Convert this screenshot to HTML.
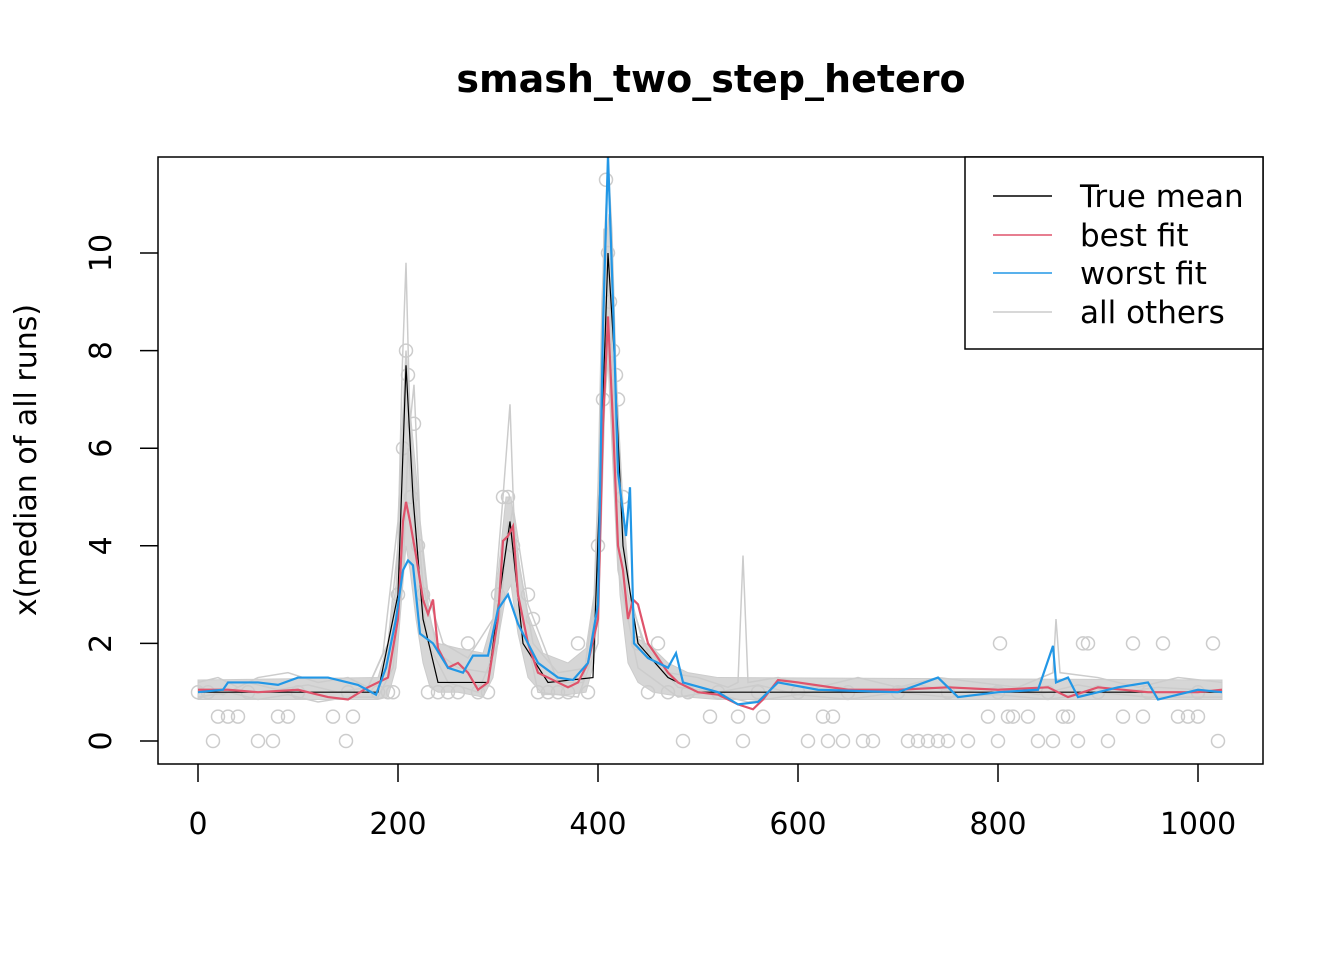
<!DOCTYPE html>
<html><head><meta charset="utf-8">
<style>
html,body{margin:0;padding:0;background:#fff;}
svg{display:block;font-family:"DejaVu Sans","Liberation Sans",sans-serif;}
</style></head>
<body>
<svg id="chart" width="1344" height="960" viewBox="0 0 1344 960" xmlns="http://www.w3.org/2000/svg">
<rect width="1344" height="960" fill="#fff"/>
<text x="711" y="92" text-anchor="middle" font-size="38" font-weight="bold">smash_two_step_hetero</text>
<text transform="translate(36,460) rotate(-90)" text-anchor="middle" font-size="30">x(median of all runs)</text>
<g id="plot"></g>
<rect x="158" y="157" width="1105" height="607" fill="none" stroke="#000" stroke-width="1.5"/>
<g id="axes"></g>
<g id="legend">
<rect x="965" y="157" width="298" height="192" fill="#fff" stroke="#000" stroke-width="1.5"/>
<line x1="993" y1="196" x2="1052" y2="196" stroke="#000" stroke-width="1.5"/>
<text x="1080" y="207" font-size="31">True mean</text>
<line x1="993" y1="235" x2="1052" y2="235" stroke="#DF536B" stroke-width="1.5"/>
<text x="1080" y="246" font-size="31">best fit</text>
<line x1="993" y1="273" x2="1052" y2="273" stroke="#2297E6" stroke-width="1.5"/>
<text x="1080" y="284" font-size="31">worst fit</text>
<line x1="993" y1="312" x2="1052" y2="312" stroke="#cccccc" stroke-width="1.5"/>
<text x="1080" y="323" font-size="31">all others</text>
</g>
</svg>
<script>
const xTicks=[0,200,400,600,800,1000];
const yTicks=[0,2,4,6,8,10];
const trueX=[0,180,200,208,215,225,240,290,305,312,325,350,395,405,410,416,425,440,470,500,1024];
const trueY=[1,1,3,7.7,5,2.5,1.2,1.2,3.5,4.5,2,1.2,1.3,7,10,8,4,2,1.3,1,1];
const bestX=[0,30,60,100,130,150,170,190,200,205,208,212,218,225,230,235,240,250,260,270,280,290,300,305,310,315,320,330,340,350,360,370,380,390,400,405,410,415,420,425,430,435,440,450,460,470,480,500,520,540,555,565,580,600,650,700,750,800,850,870,900,950,1000,1024];
const bestY=[1.05,1.05,1.0,1.05,0.9,0.85,1.1,1.3,2.5,4.5,4.9,4.5,3.8,2.9,2.6,2.9,1.9,1.5,1.6,1.4,1.05,1.2,2.5,4.1,4.2,4.4,3.0,2.0,1.4,1.3,1.2,1.1,1.2,1.6,2.5,6.5,8.7,6.5,4.0,3.5,2.5,2.9,2.8,2.0,1.7,1.4,1.2,1.0,0.95,0.75,0.65,0.85,1.25,1.2,1.05,1.05,1.1,1.05,1.1,0.9,1.1,1.0,1.0,1.05];
const worstX=[0,25,30,60,80,100,130,160,178,188,198,205,210,215,222,235,250,265,275,290,300,310,320,340,360,375,390,400,405,410,415,420,428,432,436,450,470,478,485,520,540,560,580,620,700,740,760,800,840,855,858,870,880,920,950,960,1000,1024];
const worstY=[1.0,1.05,1.2,1.2,1.15,1.3,1.3,1.15,0.95,1.5,2.5,3.5,3.7,3.6,2.2,2.0,1.5,1.4,1.75,1.75,2.7,3.0,2.4,1.6,1.3,1.25,1.6,2.8,8.5,12,9,5.5,4.2,5.2,2.0,1.7,1.5,1.8,1.2,1.0,0.75,0.8,1.2,1.05,1.0,1.3,0.9,1.0,1.05,1.95,1.2,1.3,0.9,1.1,1.2,0.85,1.05,1.0];
const bandX=[0,180,190,198,204,208,212,218,225,232,240,260,285,295,302,308,313,320,330,345,370,388,396,402,407,411,416,422,430,440,455,470,490,520,1024];
const bandLo=[0.85,0.85,0.9,1.5,3.0,4.0,3.5,2.5,1.6,1.1,1.0,1.0,0.9,1.3,2.3,3.0,3.2,2.2,1.3,0.95,0.95,1.0,1.6,3.5,7.0,8.0,5.5,3.0,1.6,1.2,1.0,0.95,0.9,0.85,0.85];
const bandHi=[1.25,1.3,2.0,3.2,6.0,7.5,6.8,5.5,3.8,2.5,2.0,1.9,1.8,2.5,3.8,5.0,5.0,3.8,2.6,1.8,1.6,1.9,3.0,6.5,10.0,10.8,8.5,6.0,3.0,2.1,1.9,1.6,1.4,1.3,1.25];
const grayAX=[0,20,40,60,90,120,150,170,190,200,204,208,212,216,222,230,245,270,295,305,312,316,322,335,360,390,398,404,410,414,418,424,432,445,470,500,530,540,545,550,580,620,660,700,740,780,820,855,858,862,900,940,980,1024];
const grayAY=[1.2,1.3,1.1,1.3,1.4,1.2,1.3,1.1,2.0,4.0,7.5,9.8,6.5,7.3,4.5,3.0,2.0,1.7,2.5,5.0,6.9,4.5,3.5,2.0,1.4,1.5,3.0,9.0,11.9,10.4,7.5,5.0,3.0,2.0,1.4,1.3,1.1,1.2,3.8,1.2,1.3,1.1,1.3,1.1,1.3,1.2,1.1,1.4,2.5,1.4,1.3,1.1,1.3,1.2];
const grayBX=[0,30,60,90,120,150,180,195,205,210,220,230,250,280,300,310,320,340,380,400,408,412,420,440,480,510,550,600,650,700,750,800,850,900,950,1024];
const grayBY=[0.9,1.0,0.85,0.95,0.8,0.9,0.9,1.5,3.5,6.0,3.5,2.0,1.2,1.0,2.0,4.5,3.0,1.0,0.9,2.0,9.0,7.0,3.5,1.5,0.9,1.0,0.8,0.95,0.85,1.0,0.9,0.95,0.85,1.0,0.9,0.9];
const grayCX=[0,25,50,80,110,140,170,185,200,208,215,225,240,260,290,305,315,330,360,385,400,406,411,418,430,450,480,520,560,600,640,680,720,760,800,840,880,920,960,1000,1024];
const grayCY=[1.1,0.95,1.2,1.05,1.15,1.0,1.1,1.8,4.5,8.0,5.5,3.2,1.8,1.5,1.4,3.5,4.8,2.8,1.2,1.2,3.5,10.5,9.5,6.0,3.0,1.8,1.1,1.0,1.15,0.95,1.1,1.0,1.15,1.0,1.1,0.95,1.15,1.0,1.1,1.05,1.0];
const ptX=[0,15,20,30,40,60,75,80,90,135,148,155,200,205,208,210,213,216,220,225,230,270,300,305,310,315,330,335,380,400,405,408,410,412,415,418,420,425,440,460,485,512,540,545,565,610,625,630,635,645,665,675,710,720,730,740,750,770,790,800,802,810,815,830,840,855,865,870,880,885,890,910,925,935,945,965,980,990,1000,1015,1020,
10,50,100,150,180,190,195,240,250,260,280,290,340,350,360,370,390,450,470,490,520,560,600,650,700,750,800,850,900,950,1000];
const ptY=[1,0,0.5,0.5,0.5,0,0,0.5,0.5,0.5,0,0.5,3,6,8,7.5,5,6.5,4,3,1,2,3,5,5,4,3,2.5,2,4,7,11.5,10,9,8,7.5,7,5,2,2,0,0.5,0.5,0,0.5,0,0.5,0,0.5,0,0,0,0,0,0,0,0,0,0.5,0,2,0.5,0.5,0.5,0,0,0.5,0.5,0,2,2,0,0.5,2,0.5,2,0.5,0.5,0.5,2,0,
1,1,1,1,1,1,1,1,1,1,1,1,1,1,1,1,1,1,1,1,1,1,1,1,1,1,1,1,1,1,1];
const NS="http://www.w3.org/2000/svg";
const sx=v=>198+v*1.0;
const sy=v=>741-v*48.8;
const plot=document.getElementById('plot');
const axes=document.getElementById('axes');
function mk(tag,attrs,parent){const e=document.createElementNS(NS,tag);for(const k in attrs)e.setAttribute(k,attrs[k]);parent.appendChild(e);return e;}
const clip=mk('clipPath',{id:'c'},plot);mk('rect',{x:158,y:157,width:1105,height:607},clip);
const g=mk('g',{'clip-path':'url(#c)'},plot);
const bandPts=bandX.map((x,i)=>sx(x)+','+sy(bandHi[i])).concat(bandX.slice().reverse().map((x,i)=>sx(x)+','+sy(bandLo[bandX.length-1-i])));
const band=mk('polygon',{points:bandPts.join(' '),fill:'#d6d6d6',stroke:'#cccccc','stroke-width':1},g);


function line(xs,ys,color,name,w){const p=mk('polyline',{points:xs.map((x,i)=>sx(x)+','+sy(ys[i])).join(' '),fill:'none',stroke:color,'stroke-width':w},g);

}
line(grayBX,grayBY,'#cccccc','gray-run-b',1.5);
line(grayCX,grayCY,'#cccccc','gray-run-c',1.5);
line(grayAX,grayAY,'#cccccc','gray-run-a',1.5);
ptX.forEach((x,i)=>{const c=mk('circle',{cx:sx(x),cy:sy(ptY[i]),r:6.5,fill:'none',stroke:'#cccccc','stroke-width':1.5},g);

});
line(trueX,trueY,'#000000','true-mean-line',1.2);
line(bestX,bestY,'#DF536B','best-fit-line',2.2);
line(worstX,worstY,'#2297E6','worst-fit-line',2.2);
mk('line',{x1:sx(0),x2:sx(1000),y1:764,y2:764,stroke:'#000'},axes);
xTicks.forEach(t=>{mk('line',{x1:sx(t),x2:sx(t),y1:764,y2:782,stroke:'#000','stroke-width':1.5},axes);
const tx=mk('text',{x:sx(t),y:834,'text-anchor':'middle','font-size':30},axes);tx.textContent=t;

});
yTicks.forEach(t=>{mk('line',{x1:140,x2:158,y1:sy(t),y2:sy(t),stroke:'#000','stroke-width':1.5},axes);
const tx=mk('text',{transform:'translate(111,'+sy(t)+') rotate(-90)','text-anchor':'middle','font-size':30},axes);tx.textContent=t;

});
</script>
</body></html>
